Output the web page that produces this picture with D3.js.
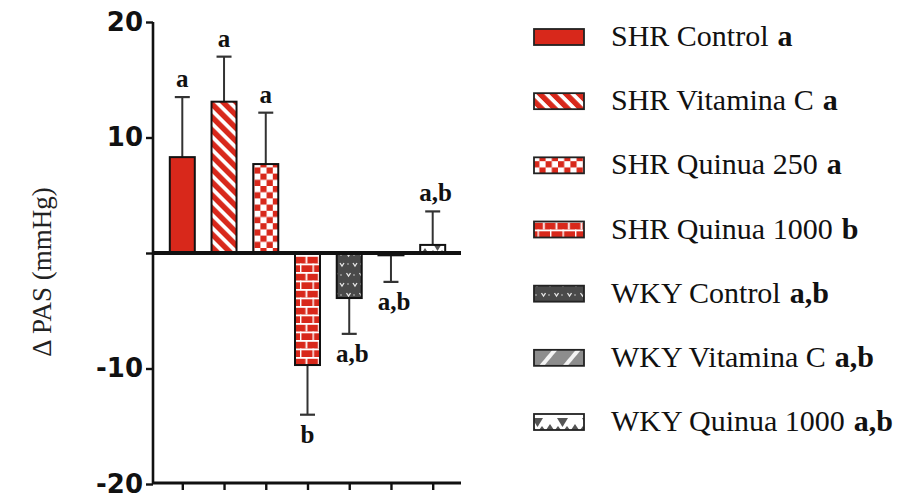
<!DOCTYPE html>
<html><head><meta charset="utf-8">
<script src="https://cdn.jsdelivr.net/npm/d3@7"></script>
<style>
html,body{margin:0;padding:0;background:#fff;}
svg{display:block;}
</style></head>
<body>
<svg id="chart" width="902" height="499"></svg>
<script>
const categories = ["SHR Control","SHR Vitamina C","SHR Quinua 250","SHR Quinua 1000","WKY Control","WKY Vitamina C","WKY Quinua 1000"];
const means = [8.3, 13.1, 7.7, -9.7, -3.9, -0.2, 0.7];
const errors = [5.2, 3.9, 4.45, 4.3, 3.1, 2.3, 2.9];
const letters = ["a","a","a","b","a,b","a,b","a,b"];
const yTickValues = [-20,-10,0,10,20];
const yTitle = "\u0394 PAS (mmHg)";

const svg = d3.select("#chart");
const RED = "#d8281b";
const defs = svg.append("defs");

const pats = ["p0","p1","p2","p3","p4","p5","p6"];
defs.append("pattern").attr("id","p0").attr("patternUnits","userSpaceOnUse").attr("width",10).attr("height",10)
  .append("rect").attr("width",10).attr("height",10).attr("fill",RED);
{
  const p = defs.append("pattern").attr("id","p1").attr("patternUnits","userSpaceOnUse")
    .attr("width",10).attr("height",9.2).attr("patternTransform","rotate(45)");
  p.append("rect").attr("width",10).attr("height",9.2).attr("fill",RED);
  p.append("rect").attr("y",0).attr("width",10).attr("height",3.8).attr("fill","#fff");
}
{
  const p = defs.append("pattern").attr("id","p2").attr("patternUnits","userSpaceOnUse").attr("width",12.4).attr("height",12.4);
  p.append("rect").attr("width",12.4).attr("height",12.4).attr("fill","#fff");
  p.append("rect").attr("x",0).attr("y",0).attr("width",6.2).attr("height",6.2).attr("fill",RED);
  p.append("rect").attr("x",6.2).attr("y",6.2).attr("width",6.2).attr("height",6.2).attr("fill",RED);
}
{
  const p = defs.append("pattern").attr("id","p3").attr("patternUnits","userSpaceOnUse").attr("width",12.5).attr("height",17);
  p.append("rect").attr("width",12.5).attr("height",17).attr("fill",RED);
  p.append("rect").attr("x",0).attr("y",0).attr("width",12.5).attr("height",1.8).attr("fill","#fff");
  p.append("rect").attr("x",0).attr("y",8.5).attr("width",12.5).attr("height",1.8).attr("fill","#fff");
  p.append("rect").attr("x",5.5).attr("y",0).attr("width",1.8).attr("height",8.5).attr("fill","#fff");
  p.append("rect").attr("x",0).attr("y",8.5).attr("width",1.4).attr("height",8.5).attr("fill","#fff");
}
{
  const p = defs.append("pattern").attr("id","p4").attr("patternUnits","userSpaceOnUse").attr("width",13).attr("height",20);
  p.append("rect").attr("width",13).attr("height",20).attr("fill","#4a4a4a");
  p.append("path").attr("d","M2,3 L4,6 L6,3 M8.5,13 L10.5,16 L12.5,13").attr("stroke","#e6e6e6").attr("stroke-width",1.3).attr("fill","none");
  p.append("circle").attr("cx",10).attr("cy",4).attr("r",0.8).attr("fill","#cfcfcf");
  p.append("circle").attr("cx",3).attr("cy",15).attr("r",0.8).attr("fill","#cfcfcf");
}
{
  const p = defs.append("pattern").attr("id","p5").attr("patternUnits","userSpaceOnUse")
    .attr("width",20).attr("height",18).attr("patternTransform","rotate(-50)");
  p.append("rect").attr("width",20).attr("height",18).attr("fill","#8d8d8d");
  p.append("rect").attr("y",0).attr("width",20).attr("height",4).attr("fill","#f4f4f4");
}
{
  const p = defs.append("pattern").attr("id","p6").attr("patternUnits","userSpaceOnUse").attr("width",25).attr("height",16);
  p.append("rect").attr("width",25).attr("height",16).attr("fill","#fff");
  p.append("path").attr("d","M7,2 L18,2 L12.5,11 Z").attr("fill","#555");
  p.append("path").attr("d","M0,8 L4,14 L0,14 Z M25,8 L21,14 L25,14 Z M5,14 L8,10 L11,14 Z M14,14 L17,10 L20,14 Z").attr("fill","#555");
}

const y = d3.scaleLinear().domain([-20,20]).range([484,22]);
const x = d3.scalePoint().domain(categories).range([182.3,432.7]);
const barW = 25;
const axisX = 153, axisRight = 461;

const yAxis = d3.axisLeft(y).tickValues(yTickValues).tickFormat(d => d === 0 ? "" : String(d)).tickSize(7).tickPadding(3);
const gy = svg.append("g").attr("transform",`translate(${axisX},0)`).call(yAxis);
gy.select(".domain").attr("stroke","#111").attr("stroke-width",2.6).attr("d",`M0,${y(20)}V${y(-20)}`);
gy.selectAll(".tick line").attr("stroke","#111").attr("stroke-width",2.4);
gy.selectAll(".tick text").attr("font-family","'DejaVu Sans', sans-serif").attr("font-weight","bold").attr("font-size",26).attr("fill","#111");

const xAxis = d3.axisBottom(x).tickFormat("").tickSize(7);
const gx = svg.append("g").attr("transform",`translate(0,${y(-20)-1})`).call(xAxis);
gx.select(".domain").attr("stroke","#111").attr("stroke-width",3).attr("d",`M${axisX},0H${axisRight}`);
gx.selectAll(".tick line").attr("stroke","#111").attr("stroke-width",2.4);

const eg = svg.append("g");
categories.forEach((c,i) => {
  const m = means[i], e = errors[i];
  const tip = m >= 0 ? m + e : m - e;
  eg.append("line").attr("x1",x(c)).attr("x2",x(c)).attr("y1",y(m)).attr("y2",y(tip)).attr("stroke","#333").attr("stroke-width",2);
  eg.append("line").attr("x1",x(c)-7.5).attr("x2",x(c)+7.5).attr("y1",y(tip)).attr("y2",y(tip)).attr("stroke","#333").attr("stroke-width",2.2);
});

svg.append("g").selectAll("rect").data(categories).join("rect")
  .attr("x", d => x(d) - barW/2)
  .attr("width", barW)
  .attr("y", (d,i) => y(Math.max(0, means[i])))
  .attr("height", (d,i) => Math.abs(y(means[i]) - y(0)))
  .attr("fill", (d,i) => `url(#${pats[i]})`)
  .attr("stroke","#111").attr("stroke-width",2);

svg.append("line").attr("x1",axisX).attr("x2",axisRight).attr("y1",y(0)).attr("y2",y(0)).attr("stroke","#111").attr("stroke-width",4);

svg.append("g").selectAll("text").data(categories).join("text")
  .attr("x", (d,i) => x(d) + (letters[i].length > 1 ? 3 : 0))
  .attr("y", (d,i) => means[i] >= 0 ? y(means[i] + errors[i]) - 10 : y(means[i] - errors[i]) + 28)
  .attr("text-anchor","middle")
  .attr("font-family","'Liberation Serif', 'Times New Roman', serif")
  .attr("font-weight","bold").attr("font-size",25).attr("fill","#111")
  .text((d,i) => letters[i]);

svg.append("text").attr("transform","translate(51,272) rotate(-90)")
  .attr("text-anchor","middle")
  .attr("font-family","'Liberation Serif', 'Times New Roman', serif")
  .attr("font-size",27).attr("fill","#222")
  .text(yTitle);

const ly = d3.scalePoint().domain(categories).range([37,422]);
const lg = svg.append("g");
categories.forEach((c,i) => {
  const cy = ly(c);
  lg.append("rect").attr("x",534).attr("y",cy-8).attr("width",50).attr("height",16)
    .attr("fill",`url(#${pats[i]})`).attr("stroke","#222").attr("stroke-width",1.8);
  const t = lg.append("text").attr("x",611).attr("y",cy+9)
    .attr("font-family","'Liberation Serif', 'Times New Roman', serif")
    .attr("font-size",30).attr("fill","#111");
  t.append("tspan").text(c);
  t.append("tspan").attr("dx",9).attr("font-weight","bold").text(letters[i]);
});
</script>
</body></html>
